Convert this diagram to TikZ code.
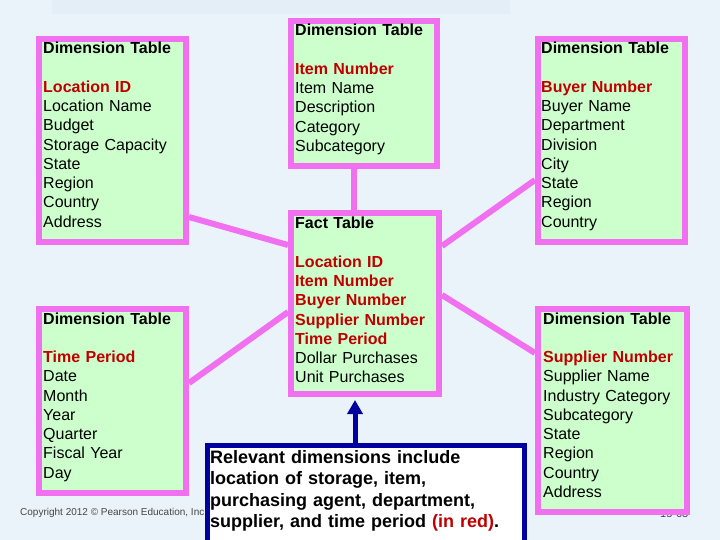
\documentclass[tikz,border=0pt]{standalone}
\usepackage{fontspec}
\setmainfont{Liberation Sans}
\usetikzlibrary{arrows.meta,backgrounds,calc}
\definecolor{bgc}{RGB}{234,243,250}
\definecolor{bannerc}{RGB}{227,238,246}
\definecolor{pinkc}{RGB}{240,112,240}
\definecolor{greenc}{RGB}{204,255,204}
\definecolor{redc}{RGB}{192,0,0}
\definecolor{bluec}{RGB}{0,0,160}
\definecolor{grayc}{RGB}{70,70,70}
\tikzset{
 tbl/.style={draw=pinkc, line width=6pt, fill=greenc, rectangle, inner sep=0pt, anchor=north west},
 tbltext/.style={anchor=base west, inner sep=0pt, align=left, text width=142pt, font=\fontsize{16}{19.25}\selectfont},
 link/.style={draw=pinkc, line width=6pt},
}
\newcommand{\hd}[1]{\textbf{#1}}
\newcommand{\ky}[1]{\textcolor{redc}{\textbf{#1}}}
\begin{document}
\begin{tikzpicture}[x=1pt,y=-1pt]
\useasboundingbox (0,0) rectangle (720,540);
\begin{pgfonlayer}{background}
\fill[bgc] (0,0) rectangle (720,540);
\fill[bannerc] (52,0) rectangle (510,14);
\end{pgfonlayer}

\node[anchor=west, inner sep=0pt, text=grayc, font=\fontsize{10}{12}\selectfont] (copy) at (20,513) {Copyright 2012 © Pearson Education, Inc.};
\node[anchor=west, inner sep=0pt, text=grayc, font=\fontsize{11}{13}\selectfont] (pg) at (660,514) {15-63};

% boxes
\node[tbl, minimum width=147pt, minimum height=203pt] (L1) at (36,36) {};
\node[tbl, minimum width=146pt, minimum height=145pt] (Item) at (288,18) {};
\node[tbl, minimum width=147pt, minimum height=203pt] (R1) at (535,36) {};
\node[tbl, minimum width=148pt, minimum height=181pt] (Fact) at (288,210) {};
\node[tbl, minimum width=147pt, minimum height=184pt] (L2) at (36,306) {};
\node[tbl, minimum width=149pt, minimum height=203pt] (R2) at (535,306) {};

% connectors
\begin{pgfonlayer}{background}
\draw[link] ($(L1.south east)+(0,-28)$) -- ($(Fact.north west)+(0,35)$);
\draw[link] ($(L2.south east)+(0,-113)$) -- ($(Fact.north west)+(0,102)$);
\draw[link] ($(Fact.north east)+(0,36)$) -- ($(R1.south west)+(0,-65)$);
\draw[link] ($(Fact.north east)+(0,85)$) -- ($(R2.north west)+(0,47)$);
\draw[link] ($(Item.south west)+(66,0)$) -- ($(Fact.north west)+(66,0)$);
\end{pgfonlayer}

% texts
\node[tbltext] (L1t) at (43,54) {\hd{Dimension Table}\\[19.25pt]
\ky{Location ID}\\Location Name\\Budget\\Storage Capacity\\State\\Region\\Country\\Address};
\node[tbltext] (Itemt) at (295,36) {\hd{Dimension Table}\\[19.25pt]
\ky{Item Number}\\Item Name\\Description\\Category\\Subcategory};
\node[tbltext] (R1t) at (541,54) {\hd{Dimension Table}\\[19.25pt]
\ky{Buyer Number}\\Buyer Name\\Department\\Division\\City\\State\\Region\\Country};
\node[tbltext] (Factt) at (295,229) {\hd{Fact Table}\\[19.25pt]
\ky{Location ID}\\\ky{Item Number}\\\ky{Buyer Number}\\\ky{Supplier Number}\\\ky{Time Period}\\Dollar Purchases\\Unit Purchases};
\node[tbltext] (L2t) at (43,324) {\hd{Dimension Table}\\[19.25pt]
\ky{Time Period}\\Date\\Month\\Year\\Quarter\\Fiscal Year\\Day};
\node[tbltext] (R2t) at (543,324) {\hd{Dimension Table}\\[19.25pt]
\ky{Supplier Number}\\Supplier Name\\Industry Category\\Subcategory\\State\\Region\\Country\\Address};

% callout
\node[draw=bluec, line width=5pt, fill=white, rectangle, inner sep=0pt, anchor=north west, minimum width=317pt, minimum height=112pt] (call) at (205,443) {};
\node[anchor=base west, inner sep=0pt, align=left, text width=310pt, font=\bfseries\fontsize{18}{21.3}\selectfont] (callt) at (210,463.5)
{Relevant dimensions include\\location of storage, item,\\purchasing agent, department,\\supplier, and time period \textcolor{redc}{(in red)}.};
\draw[draw=bluec, line width=5pt, -{Triangle[length=14pt,width=15pt]}, shorten >=3pt] ($(call.north west)+(150,0)$) -- ($(Fact.south west)+(67,0)$);
\end{tikzpicture}
\end{document}
